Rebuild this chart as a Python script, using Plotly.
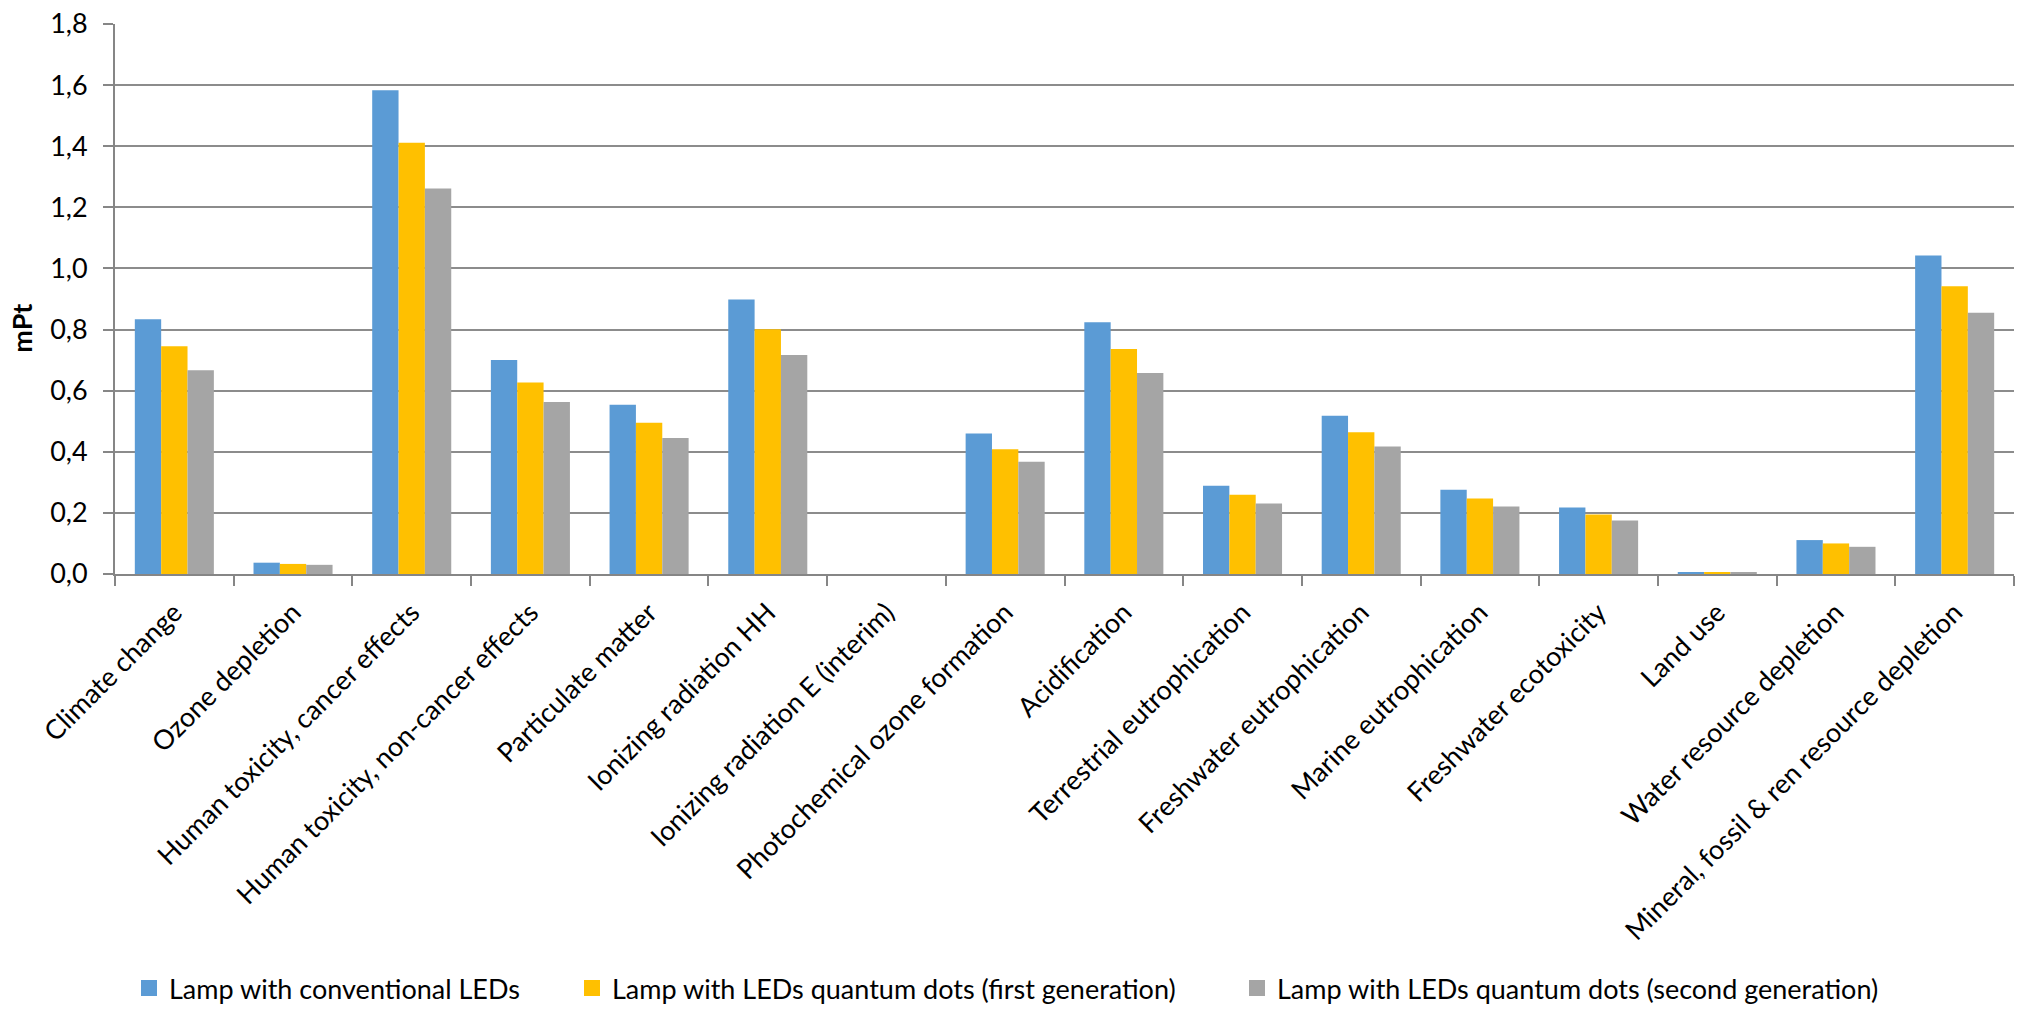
import plotly.graph_objects as go

categories = [
    "Climate change", "Ozone depletion", "Human toxicity, cancer effects",
    "Human toxicity, non-cancer effects", "Particulate matter", "Ionizing radiation HH",
    "Ionizing radiation E (interim)", "Photochemical ozone formation", "Acidification",
    "Terrestrial eutrophication", "Freshwater eutrophication", "Marine eutrophication",
    "Freshwater ecotoxicity", "Land use", "Water resource depletion",
    "Mineral, fossil & ren resource depletion",
]
conventional = [0.834, 0.037, 1.583, 0.700, 0.554, 0.898, 0.0, 0.460, 0.824, 0.289,
                0.518, 0.276, 0.218, 0.006, 0.111, 1.042]
qd_first = [0.745, 0.033, 1.411, 0.627, 0.495, 0.801, 0.0, 0.408, 0.736, 0.259,
            0.464, 0.247, 0.195, 0.005, 0.100, 0.942]
qd_second = [0.667, 0.030, 1.262, 0.563, 0.445, 0.717, 0.0, 0.367, 0.658, 0.231,
             0.417, 0.221, 0.175, 0.004, 0.089, 0.855]
series_names = [
    "Lamp with conventional LEDs",
    "Lamp with LEDs quantum dots (first generation)",
    "Lamp with LEDs quantum dots (second generation)",
]
colors = ["#5B9BD5", "#FFC000", "#A5A5A5"]
y_ticks = [0.0, 0.2, 0.4, 0.6, 0.8, 1.0, 1.2, 1.4, 1.6, 1.8]

FONT = "Lato"
FS = 27
W, H = 2020, 1013
ml, mr, mt, mb = 115, 6, 18, 439
pw = W - ml - mr
ph = H - mt - mb

fig = go.Figure()
legend_ids = ["legend", "legend2", "legend3"]
legend_px = [143, 586, 1251]
for name, vals, col in zip(series_names, [conventional, qd_first, qd_second], colors):
    fig.add_trace(go.Bar(x=categories, y=vals, name=name, marker_color=col,
                         marker_line_width=0, showlegend=False))
# legend entries (larger swatches) on a hidden overlaid axis pair
for name, col, lid in zip(series_names, colors, legend_ids):
    fig.add_trace(go.Bar(x=[categories[0]], y=[None], name=name, marker_color=col,
                         marker_line=dict(width=4, color=col), legend=lid,
                         xaxis="x2", yaxis="y2", hoverinfo="skip"))

legends = {}
for lid, px in zip(legend_ids, legend_px):
    legends[lid] = dict(orientation="h", yanchor="bottom", yref="container", y=0,
                        xanchor="left", x=(px - 14 - ml) / pw,
                        font=dict(family=FONT, size=FS, color="black"),
                        bgcolor="rgba(0,0,0,0)", borderwidth=0)

fig.update_layout(
    width=W, height=H,
    margin=dict(l=ml, r=mr, t=mt, b=mb),
    paper_bgcolor="white", plot_bgcolor="white",
    barmode="group", bargap=0.334, bargroupgap=0,
    separators=",.",
    font=dict(family=FONT, size=FS, color="black"),
    showlegend=True,
    xaxis2=dict(overlaying="x", visible=False, matches=None),
    yaxis2=dict(overlaying="y", visible=False, range=[0, 1]),
    **legends,
)
fig.add_annotation(text="<b>mPt</b>", textangle=-90, xref="paper", yref="paper",
                   x=(22 - ml) / pw, y=1 - (326 - mt) / ph, xanchor="center", yanchor="middle",
                   showarrow=False, font=dict(family=FONT, size=FS, color="black"))
fig.update_xaxes(selector=dict(overlaying=None))
fig.update_layout(xaxis=dict(
    tickangle=-45, tickson="boundaries", ticks="outside", ticklen=10, tickwidth=1.5,
    tickcolor="#868686", showline=True, linecolor="#868686", linewidth=2,
    showgrid=False, tickfont=dict(family=FONT, size=FS, color="black"), ticklabelstandoff=10,
))
fig.update_layout(yaxis=dict(
    range=[0, 1.8], tickvals=y_ticks, tickformat=".1f", ticks="outside", ticklen=10,
    tickwidth=1.5, tickcolor="#868686", showline=True, linecolor="#868686", linewidth=2,
    showgrid=True, gridcolor="#8C8C8C", gridwidth=1.5, zeroline=False,
    tickfont=dict(family=FONT, size=FS, color="black"), ticklabelstandoff=10,
))
fig.write_html("out.html")
